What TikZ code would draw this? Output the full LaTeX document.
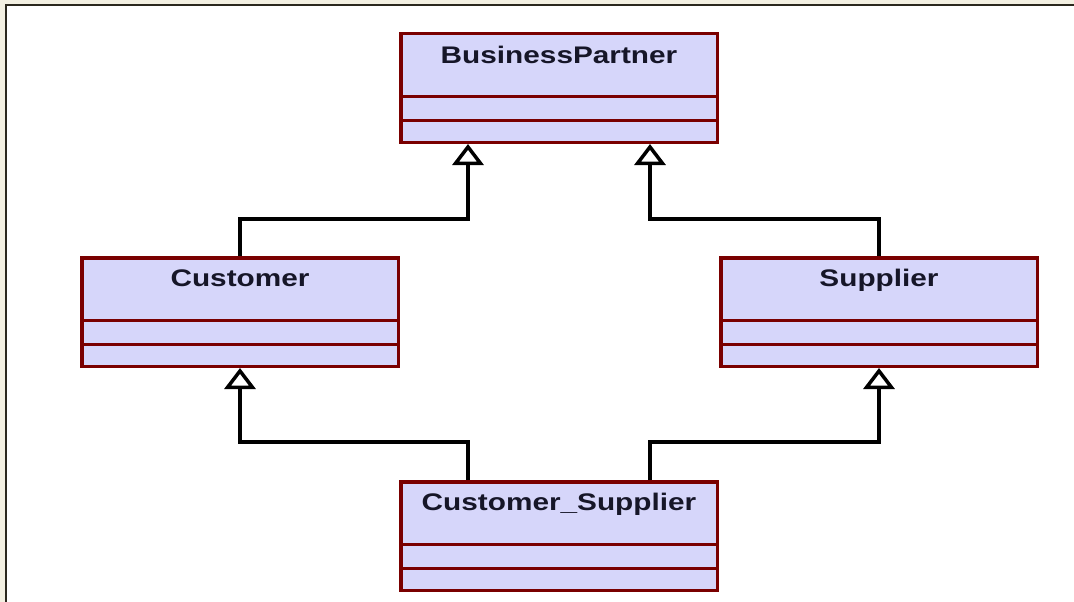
\documentclass[tikz,border=0pt]{standalone}
\usepackage{fontspec}
\newfontfamily\umlfont[FakeStretch=1.24]{Liberation Sans}
\usepackage{tikz}
\usetikzlibrary{calc,positioning,arrows.meta}
\definecolor{classfill}{RGB}{214,214,250}
\definecolor{classborder}{RGB}{122,0,0}
\definecolor{namecolor}{RGB}{22,22,40}
\definecolor{pagebg}{RGB}{243,240,226}
\definecolor{frameline}{RGB}{43,40,30}

\begin{document}
\begin{tikzpicture}[x=1pt,y=1pt]
\tikzstyle{classbox} = [draw=classborder, fill=classfill, line width=3.5pt, minimum width=316.5pt, minimum height=108.5pt, inner sep=0pt];
\tikzstyle{classname} = [anchor=base, inner sep=0pt, text=namecolor, font=\umlfont\bfseries\fontsize{24}{28}\selectfont];
\tikzstyle{divider} = [draw=classborder, line width=3pt];
\tikzstyle{inherit} = [line width=3.5pt, -{Triangle[open,length=21pt,width=31pt]}];
% page and frame
\useasboundingbox (0,0) rectangle (1074,-602);
\fill[pagebg] (0,0) rectangle (1074,-602);
\fill[white] (6,-5) rectangle (1074,-602);
\draw[frameline, line width=2.5pt] (6,-602) -- (6,-5) -- (1074,-5);
% classes
\node[classbox] (BP) at (559,-88) {};
\node[classbox] (C) at (240,-312) {};
\node[classbox] (S) at (879,-312) {};
\node[classbox] (CS) at (559,-536) {};
\node[classname] (BPn) at ([yshift=-31.5pt]BP.north) {BusinessPartner};
\node[classname] (Cn) at ([yshift=-30pt]C.north) {Customer};
\node[classname] (Sn) at ([yshift=-30pt]S.north) {Supplier};
\node[classname] (CSn) at ([yshift=-30pt]CS.north) {Customer\_Supplier};
% compartments
\foreach \c in {BP,C,S,CS}{
  \draw[divider] ([yshift=-64pt]\c.north west) -- ([yshift=-64pt]\c.north east);
  \draw[divider] ([yshift=-88pt]\c.north west) -- ([yshift=-88pt]\c.north east);
}
% generalisations
\draw[inherit] (C.north) -- ++(0,37) -| ([xshift=-91pt]BP.south);
\draw[inherit] (S.north) -- ++(0,37) -| ([xshift=91pt]BP.south);
\draw[inherit] ([xshift=-91pt]CS.north) -- ++(0,38) -| (C.south);
\draw[inherit] ([xshift=91pt]CS.north) -- ++(0,38) -| (S.south);
\end{tikzpicture}
\end{document}
